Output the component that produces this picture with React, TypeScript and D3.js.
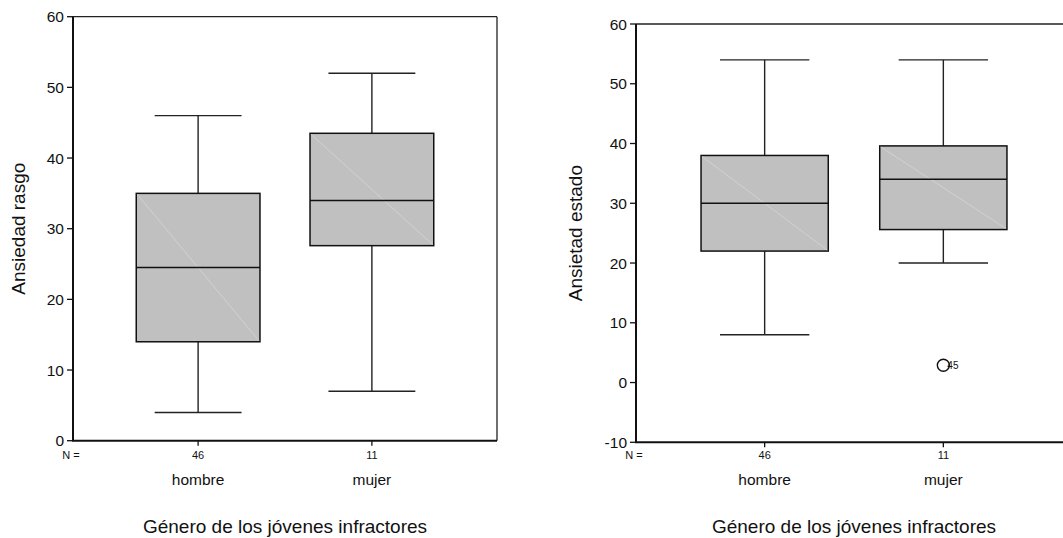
import React from "react";
import * as d3 from "d3";

const categories = ["hombre", "mujer"];
const nCounts = ["46", "11"];

// Ansiedad rasgo (left panel)
const rasgoMin = [4, 7];
const rasgoQ1 = [14, 27.6];
const rasgoMedian = [24.5, 34];
const rasgoQ3 = [35, 43.5];
const rasgoMax = [46, 52];
const rasgoTicks = [0, 10, 20, 30, 40, 50, 60];

// Ansietad estado (right panel)
const estadoMin = [8, 20];
const estadoQ1 = [22, 25.6];
const estadoMedian = [30, 34];
const estadoQ3 = [38, 39.6];
const estadoMax = [54, 54];
const estadoTicks = [-10, 0, 10, 20, 30, 40, 50, 60];
const estadoOutliers = [{ category: "mujer", value: 2.9, label: "45" }];

const FONT = "'Liberation Sans', Arial, Helvetica, sans-serif";

type PanelProps = {
  left: number;
  right: number;
  top: number;
  bottom: number;
  domain: [number, number];
  ticks: number[];
  yTitle: string;
  yTitleX: number;
  mins: number[];
  q1s: number[];
  medians: number[];
  q3s: number[];
  maxs: number[];
  outliers: { category: string; value: number; label: string }[];
};

function Panel(p: PanelProps) {
  const x = d3.scalePoint<string>().domain(categories).range([p.left, p.right]).padding(0.72);
  const y = d3.scaleLinear().domain(p.domain).range([p.bottom, p.top]);
  const step = x.step();
  const boxW = step * 0.712;
  const capW = step * 0.5;
  const cx = (p.left + p.right) / 2;
  const cy = (p.top + p.bottom) / 2;
  return (
    <g>
      {/* frame */}
      <line x1={p.left} x2={p.right} y1={p.top} y2={p.top} stroke="#222" strokeWidth={1.3} />
      <line x1={p.right} x2={p.right} y1={p.top} y2={p.bottom} stroke="#222" strokeWidth={1.3} />
      <line x1={p.left} x2={p.left} y1={p.top} y2={p.bottom} stroke="#111" strokeWidth={2} />
      <line x1={p.left - 1} x2={p.right} y1={p.bottom} y2={p.bottom} stroke="#111" strokeWidth={2} />
      {/* y ticks */}
      {p.ticks.map((t) => (
        <g key={t}>
          <line x1={p.left - 6} x2={p.left} y1={y(t)} y2={y(t)} stroke="#111" strokeWidth={1.3} />
          <text x={p.left - 9} y={y(t)} dy="0.36em" textAnchor="end" fontSize={15.5} fontFamily={FONT} fill="#111">
            {t}
          </text>
        </g>
      ))}
      {/* y title */}
      <text
        transform={`translate(${p.yTitleX},${cy}) rotate(-90)`}
        textAnchor="middle"
        fontSize={19}
        fontFamily={FONT}
        fill="#111"
      >
        {p.yTitle}
      </text>
      {/* x ticks + labels */}
      <text x={p.left - 2} y={459} textAnchor="middle" fontSize={11} fontFamily={FONT} fill="#111">
        N =
      </text>
      {categories.map((c, i) => (
        <g key={c}>
          <line x1={x(c)!} x2={x(c)!} y1={p.bottom} y2={p.bottom + 5} stroke="#111" strokeWidth={1.3} />
          <text x={x(c)!} y={459} textAnchor="middle" fontSize={11} fontFamily={FONT} fill="#111">
            {nCounts[i]}
          </text>
          <text x={x(c)!} y={485} textAnchor="middle" fontSize={15.5} fontFamily={FONT} fill="#111">
            {c}
          </text>
        </g>
      ))}
      <text x={cx} y={533} textAnchor="middle" fontSize={19} fontFamily={FONT} fill="#111">
        Género de los jóvenes infractores
      </text>
      {/* boxes */}
      {categories.map((c, i) => {
        const xc = x(c)!;
        const x0 = xc - boxW / 2;
        const x1 = xc + boxW / 2;
        return (
          <g key={"b" + c}>
            <line x1={xc} x2={xc} y1={y(p.maxs[i])} y2={y(p.q3s[i])} stroke="#222" strokeWidth={1.4} />
            <line x1={xc} x2={xc} y1={y(p.q1s[i])} y2={y(p.mins[i])} stroke="#222" strokeWidth={1.4} />
            <line x1={xc - capW / 2} x2={xc + capW / 2} y1={y(p.maxs[i])} y2={y(p.maxs[i])} stroke="#222" strokeWidth={1.4} />
            <line x1={xc - capW / 2} x2={xc + capW / 2} y1={y(p.mins[i])} y2={y(p.mins[i])} stroke="#222" strokeWidth={1.4} />
            <rect
              x={x0}
              y={y(p.q3s[i])}
              width={boxW}
              height={y(p.q1s[i]) - y(p.q3s[i])}
              fill="#c0c0c0"
              stroke="#111"
              strokeWidth={1.5}
            />
            <line x1={x0 + 1} y1={y(p.q3s[i]) + 1} x2={x1 - 1} y2={y(p.q1s[i]) - 1} stroke="#d6d6d6" strokeWidth={0.8} />
            <line x1={x0} x2={x1} y1={y(p.medians[i])} y2={y(p.medians[i])} stroke="#111" strokeWidth={1.5} />
          </g>
        );
      })}
      {p.outliers.map((o) => (
        <g key={o.label}>
          <circle cx={x(o.category)!} cy={y(o.value)} r={6} fill="none" stroke="#111" strokeWidth={1.4} />
          <text x={x(o.category)! + 4} y={y(o.value)} dy="0.36em" fontSize={10} fontFamily={FONT} fill="#111">
            {o.label}
          </text>
        </g>
      ))}
    </g>
  );
}

export default function App() {
  return (
    <svg
      width={1063}
      height={538}
      style={{ position: "absolute", left: 0, top: 0, background: "#fff" }}
    >
      <rect x={0} y={0} width={1063} height={538} fill="#fff" />
      <Panel
        left={73}
        right={497}
        top={16.7}
        bottom={440.7}
        domain={[0, 60]}
        ticks={rasgoTicks}
        yTitle="Ansiedad rasgo"
        yTitleX={25}
        mins={rasgoMin}
        q1s={rasgoQ1}
        medians={rasgoMedian}
        q3s={rasgoQ3}
        maxs={rasgoMax}
        outliers={[]}
      />
      <Panel
        left={636}
        right={1072}
        top={24}
        bottom={442.3}
        domain={[-10, 60]}
        ticks={estadoTicks}
        yTitle="Ansietad estado"
        yTitleX={582}
        mins={estadoMin}
        q1s={estadoQ1}
        medians={estadoMedian}
        q3s={estadoQ3}
        maxs={estadoMax}
        outliers={estadoOutliers}
      />
    </svg>
  );
}
